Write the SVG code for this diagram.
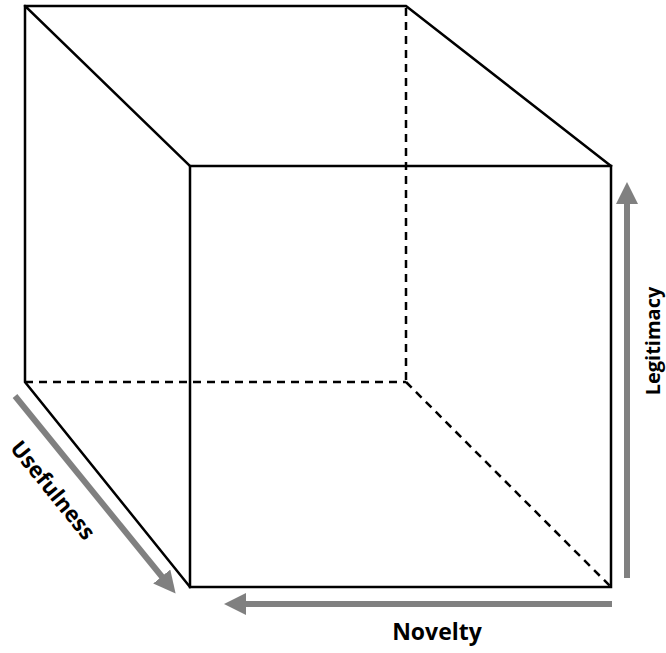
<svg xmlns="http://www.w3.org/2000/svg" width="666" height="653" viewBox="0 0 666 653">
<style>
.e{stroke:#000;stroke-width:2.5;fill:none;stroke-linecap:square;stroke-linejoin:miter}
.d{stroke:#000;stroke-width:2.5;fill:none;stroke-dasharray:8 6}
.a{stroke:#808080;stroke-width:6;fill:none}
.lbl{font-family:"Open Sans","Liberation Sans",sans-serif;font-weight:bold;fill:#000}
</style>
<defs>
<marker id="ah" markerUnits="userSpaceOnUse" markerWidth="22" markerHeight="22" refX="2" refY="11" orient="auto">
<path d="M0,0 L22,11 L0,22 Z" fill="#808080"/>
</marker>
</defs>
<rect width="666" height="653" fill="#fff"/>
<g id="cube">
<path class="d" d="M406,8 V382 M25,382 H406 M406,382 L611,587"/>
<path class="e" d="M25,6 H406 L611,166 M25,6 V382 L190,587 M25,6 L190,166"/>
<rect class="e" x="190" y="166" width="421" height="421"/>
</g>
<g id="connectors">
<line class="a" x1="612" y1="604" x2="244" y2="604" marker-end="url(#ah)"/>
<line class="a" x1="627" y1="578" x2="627" y2="202" marker-end="url(#ah)"/>
<line class="a" x1="15" y1="396" x2="163" y2="578" marker-end="url(#ah)"/>
</g>
<g id="novelty"><text class="lbl" x="437" y="640" font-size="23" text-anchor="middle">Novelty</text></g>
<g id="legitimacy"><text class="lbl" transform="translate(660,341) rotate(-90)" font-size="20" text-anchor="middle">Legitimacy</text></g>
<g id="usefulness"><text class="lbl" transform="translate(47,495) rotate(51)" font-size="22" text-anchor="middle">Usefulness</text></g>
</svg>
